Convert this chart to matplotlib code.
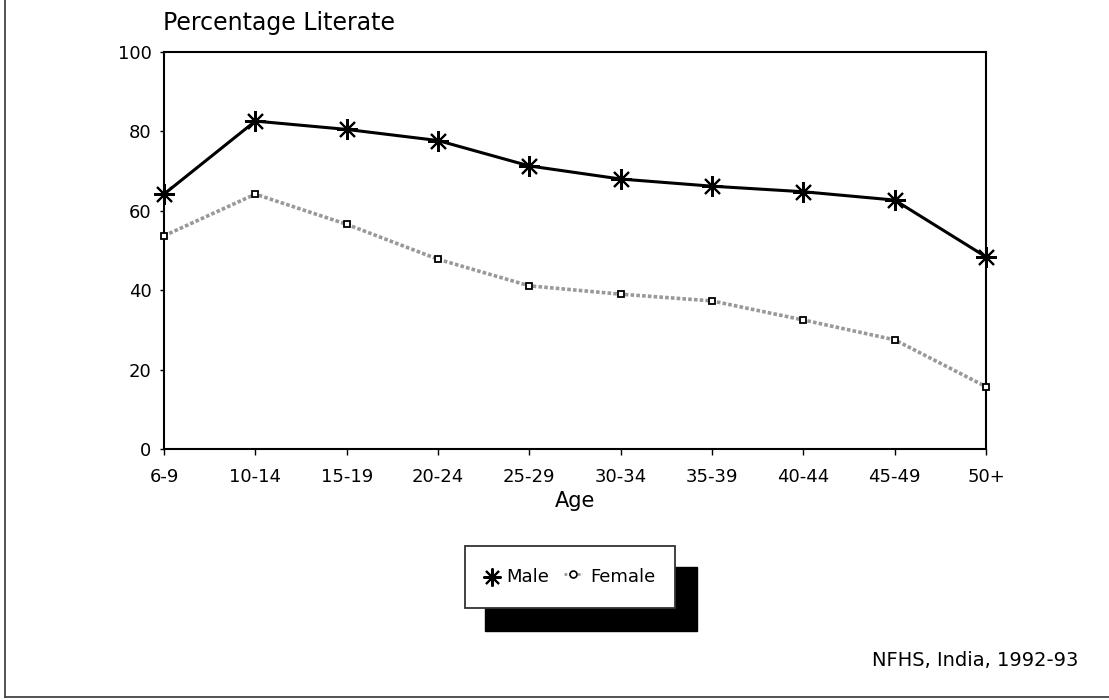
import matplotlib
matplotlib.use("Agg")
import matplotlib.pyplot as plt
from matplotlib.patches import Rectangle
from matplotlib.lines import Line2D

plt.rcParams['font.family'] = ['DejaVu Sans']

ages = ["6-9", "10-14", "15-19", "20-24", "25-29", "30-34", "35-39", "40-44", "45-49", "50+"]
tick_labels = ["6-9", "10-14", "15-19", "20-24", "25-29", "30-34", "35-39", "40-44", "45-49", "50+"]
male = [64.2, 82.6, 80.5, 77.7, 71.3, 68.0, 66.2, 64.8, 62.7, 48.4]
female = [53.7, 64.2, 56.6, 47.8, 41.1, 39.0, 37.3, 32.5, 27.5, 15.7]
yticks = [0, 20, 40, 60, 80, 100]

W, H = 1109, 700
fig = plt.figure(figsize=(W / 100, H / 100), dpi=100)
ax = fig.add_axes([164 / W, 1 - 449 / H, 822 / W, 397 / H])

x = list(range(len(ages)))
male_marker = (8, 2, 0)
ax.plot(x, female, color="#999999", lw=2.6, ls=(0, (1, 0.6)), marker="s", ms=5,
        mfc="white", mec="black", mew=1.3, zorder=3, clip_on=False)
ax.plot(x, male, color="black", lw=2.2, marker=male_marker, ms=15, mew=1.5,
        mec="black", zorder=4, clip_on=False)

ax.set_xlim(0, len(ages) - 1)
ax.set_ylim(0, 100)
ax.set_xticks(x)
ax.set_xticklabels(tick_labels, fontsize=13)
ax.set_yticks(yticks)
ax.set_yticklabels([str(v) for v in yticks], fontsize=13)
ax.tick_params(axis="x", length=4, width=1, pad=10, direction="out")
ax.tick_params(axis="y", length=3, width=1, pad=6, direction="out")
for s in ax.spines.values():
    s.set_linewidth(1.5)
    s.set_color("black")

ax.set_xlabel("Age", fontsize=15, labelpad=3)

def fx(px):
    return px / W

def fy(py):
    return 1 - py / H

fig.text(fx(163), fy(23), "Percentage Literate", fontsize=17, va="center", ha="left")

# legend box with black drop shadow
fig.patches.append(Rectangle((fx(485), fy(631)), fx(697) - fx(485), fy(567) - fy(631),
                             transform=fig.transFigure, facecolor="black", edgecolor="black", zorder=1))
fig.patches.append(Rectangle((fx(465), fy(608)), fx(675) - fx(465), fy(546) - fy(608),
                             transform=fig.transFigure, facecolor="white", edgecolor="#333333",
                             lw=1.3, zorder=2))
ly = fy(577)
fig.lines.append(Line2D([fx(492)], [ly], transform=fig.transFigure, marker=male_marker,
                        ms=13, mew=1.5, color="black", zorder=3))
fig.text(fx(506), ly, "Male", fontsize=13, va="center", ha="left", zorder=4)
fig.lines.append(Line2D([fx(564), fx(582)], [ly + 0.004, ly + 0.004], transform=fig.transFigure,
                        color="#999999", lw=2, ls=(0, (1, 0.6)), zorder=3))
fig.lines.append(Line2D([fx(573)], [ly + 0.004], transform=fig.transFigure, marker="o",
                        ms=5, mfc="white", mec="black", mew=1.2, zorder=4))
fig.text(fx(590), ly, "Female", fontsize=13, va="center", ha="left", zorder=4)

fig.text(fx(1078), fy(660), "NFHS, India, 1992-93", fontsize=14, va="center", ha="right")

# partial outer frame (left and bottom)
fig.lines.append(Line2D([fx(5), fx(5)], [fy(697), 1.0], transform=fig.transFigure,
                        color="#444444", lw=1.3))
fig.lines.append(Line2D([fx(5), 1.0], [fy(697), fy(697)], transform=fig.transFigure,
                        color="#444444", lw=1.3))

fig.savefig("out.png", dpi=100, facecolor="white")
